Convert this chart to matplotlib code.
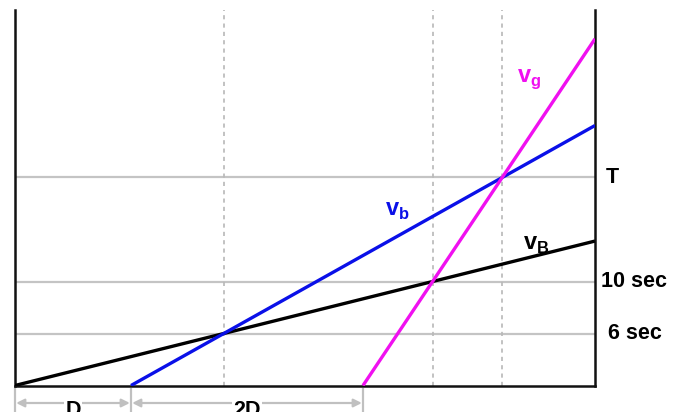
import matplotlib
matplotlib.use('Agg')
from matplotlib import pyplot as plt

plt.rcParams['font.family'] = ['Liberation Sans', 'DejaVu Sans']
plt.rcParams['mathtext.fontset'] = 'custom'
plt.rcParams['mathtext.bf'] = 'Liberation Sans:bold'
plt.rcParams['mathtext.rm'] = 'Liberation Sans'

##### DATA #####
# x in units of D, y in arbitrary time units
black_x = [0, 5]
black_y = [0, 100/9]
blue_x = [1, 5]
blue_y = [0, 20]
mag_x = [3, 5]
mag_y = [0, 80/3]

h_levels = [4, 8, 16]
h_labels = ['6 sec', '10 sec', 'T']
v_levels = [1.8, 3.6, 4.2]

span_marks = [0, 1, 3]
span_labels = ['D', '2D']
##### END DATA #####

fig = plt.figure(figsize=(6.78, 4.12), dpi=100)
ax = fig.add_axes([15/678, 26.5/412, 580/678, 375.5/412])
ax.set_xlim(0, 5)
ax.set_ylim(0, 375.5/13)

for y in h_levels:
	ax.plot([0, 5], [y, y], color='#c4c4c4', lw=1.6, zorder=1)
for x in v_levels:
	ax.plot([x, x], [0, 375.5/13], color='#b8b8b8', lw=1.2, ls=(0, (2.5, 2.5)), zorder=1)

ax.plot(black_x, black_y, color='black', lw=2.4, solid_capstyle='butt', zorder=3)
ax.plot(blue_x, blue_y, color='#0a10e8', lw=2.4, solid_capstyle='butt', zorder=3)
ax.plot(mag_x, mag_y, color='#f010f0', lw=2.4, solid_capstyle='butt', zorder=4)

offs = {'T': 0.09, '10 sec': 0.055, '6 sec': 0.11}
for y, lab in zip(h_levels, h_labels):
	ax.text(5 + offs[lab], y, lab, fontsize=15.5, fontweight='bold', va='center', ha='left', clip_on=False)

ax.text(3.19, 13.4, r'$\mathbf{v}_\mathbf{b}$', color='#0a10e8', fontsize=17, ha='left', va='center')
ax.text(4.33, 23.6, r'$\mathbf{v}_\mathbf{g}$', color='#f010f0', fontsize=17, ha='left', va='center')
ax.text(4.38, 10.8, r'$\mathbf{v}_\mathbf{B}$', color='black', fontsize=17, ha='left', va='center')

for s in ['top']:
	ax.spines[s].set_visible(False)
for s in ['left', 'right', 'bottom']:
	ax.spines[s].set_linewidth(1.8)
	ax.spines[s].set_color('#111111')
ax.set_xticks([])
ax.set_yticks([])

# span markers under the axis
yb = -17.5/13
for x in span_marks:
	ax.plot([x, x], [-0.3, -2.1], color='#c0c0c0', lw=1.6, clip_on=False)
for i, lab in enumerate(span_labels):
	x0, x1 = span_marks[i], span_marks[i+1]
	ax.annotate('', xy=(x0 + 0.01, yb), xytext=(x1 - 0.01, yb), xycoords='data',
		arrowprops=dict(arrowstyle='<|-|>', color='#c0c0c0', lw=1.6, mutation_scale=12, shrinkA=0, shrinkB=0),
		annotation_clip=False)
	ax.text((x0 + x1)/2, yb - 0.55, lab, fontsize=15.5, fontweight='bold', ha='center', va='center',
		bbox=dict(facecolor='white', edgecolor='none', pad=1), clip_on=False)

fig.savefig('out.png', dpi=100)
